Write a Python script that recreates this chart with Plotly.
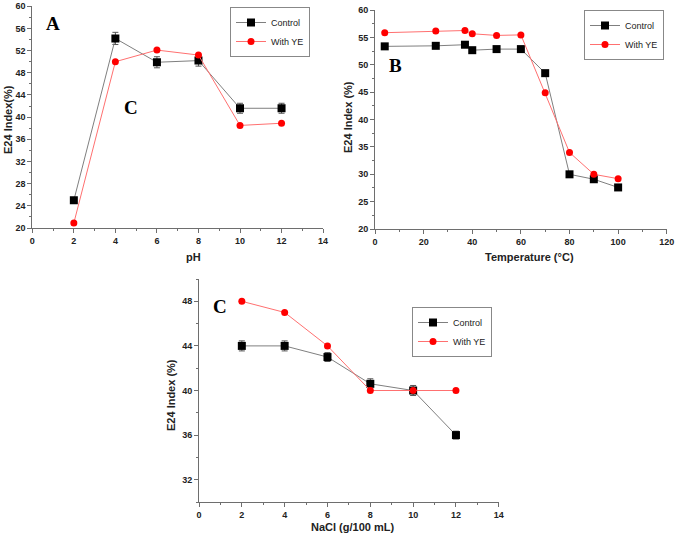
import plotly.graph_objects as go

W, H = 676, 537

# Panel A: pH
ph = [2, 4, 6, 8, 10, 12]
ph_control = [25.0, 54.2, 49.9, 50.2, 41.6, 41.6]
ph_control_err = [0.5, 1.1, 1.0, 1.0, 0.9, 0.9]
ph_ye = [20.9, 50.0, 52.1, 51.2, 38.5, 38.9]

# Panel B: Temperature
temp = [4, 25, 37, 40, 50, 60, 70, 80, 90, 100]
temp_control = [53.4, 53.5, 53.7, 52.7, 52.9, 52.9, 48.5, 30.0, 29.1, 27.6]
temp_control_err = [0.4, 0.4, 0.4, 0.4, 0.4, 0.4, 0.4, 0.4, 0.4, 0.4]
temp_ye = [55.9, 56.2, 56.3, 55.7, 55.4, 55.5, 44.9, 34.0, 30.0, 29.2]

# Panel C: NaCl
nacl = [2, 4, 6, 8, 10, 12]
nacl_control = [44.0, 44.0, 43.0, 40.6, 40.0, 36.0]
nacl_control_err = [0.45, 0.45, 0.4, 0.45, 0.45, 0.35]
nacl_ye = [48.0, 47.0, 44.0, 40.0, 40.0, 40.0]

CTRL_LINE = "#7f7f7f"
YE_LINE = "#ff7070"
FONT = "Liberation Sans"
TXT = "#222222"
AX = "#6e6e6e"

def px_x(p):
    return p / W

def px_y(p):
    return 1 - p / H

fig = go.Figure()

panels = [
    ("x", "y", "legend", ph, ph_control, ph_control_err, ph_ye),
    ("x2", "y2", "legend2", temp, temp_control, temp_control_err, temp_ye),
    ("x3", "y3", "legend3", nacl, nacl_control, nacl_control_err, nacl_ye),
]
for xa, ya, lg, xs, yc, ec, yy in panels:
    fig.add_trace(go.Scatter(
        x=xs, y=yc, mode="lines+markers", name="Control",
        xaxis=xa, yaxis=ya, legend=lg,
        line=dict(color=CTRL_LINE, width=1),
        marker=dict(symbol="square", size=8, color="black"),
        error_y=dict(type="data", array=ec, color="#555555", thickness=1, width=3),
    ))
    fig.add_trace(go.Scatter(
        x=xs, y=yy, mode="lines+markers", name="With YE",
        xaxis=xa, yaxis=ya, legend=lg,
        line=dict(color=YE_LINE, width=1),
        marker=dict(symbol="circle", size=7, color="red"),
    ))

def xaxis(domain, rng, dtick, minor, anchor):
    return dict(
        domain=domain, range=rng, dtick=dtick, tick0=0, anchor=anchor,
        showline=True, linecolor=AX, linewidth=1,
        ticks="outside", ticklen=4, tickcolor=AX,
        minor=dict(ticks="outside", ticklen=2, dtick=minor, tickcolor=AX),
        showgrid=False, zeroline=False, automargin=False,
        tickfont=dict(family=FONT, size=9, color=TXT, weight="bold"),
    )

def yaxis(domain, rng, dtick, tick0, minor, anchor):
    return dict(
        domain=domain, range=rng, dtick=dtick, tick0=tick0, anchor=anchor,
        showline=True, linecolor=AX, linewidth=1,
        ticks="outside", ticklen=4, tickcolor=AX,
        minor=dict(ticks="outside", ticklen=2, dtick=minor, tickcolor=AX),
        showgrid=False, zeroline=False, automargin=False,
        tickfont=dict(family=FONT, size=9, color=TXT, weight="bold"),
    )

fig.update_layout(
    width=W, height=H,
    margin=dict(l=0, r=0, t=0, b=0),
    paper_bgcolor="white", plot_bgcolor="white",
    showlegend=True,
    xaxis=xaxis([px_x(32.3), px_x(323.3)], [0, 14.01], 2, 1, "y"),
    yaxis=yaxis([px_y(228), px_y(6)], [20, 60.05], 4, 20, 2, "x"),
    xaxis2=xaxis([px_x(375), px_x(667)], [0, 120.1], 20, 10, "y2"),
    yaxis2=yaxis([px_y(229), px_y(10)], [20, 60.05], 5, 20, 2.5, "x2"),
    xaxis3=xaxis([px_x(199), px_x(499)], [0, 14.01], 2, 1, "y3"),
    yaxis3=yaxis([px_y(502), px_y(279)], [30, 50], 4, 32, 2, "x3"),
)

def legend(x, y, xanchor="left"):
    return dict(
        x=px_x(x), y=px_y(y), xanchor=xanchor, yanchor="top",
        bgcolor="white", bordercolor="#888", borderwidth=1,
        font=dict(family=FONT, size=9, color=TXT),
        itemwidth=30, tracegroupgap=0,
    )

fig.update_layout(
    legend=legend(230, 7),
    legend2=legend(664, 10, "right"),
    legend3=legend(412, 307),
)

# axis titles
titles = [
    ("E24 Index(%)", 8, 120, -90),
    ("pH", 193, 257, 0),
    ("E24 Index (%)", 348, 117, -90),
    ("Temperature (°C)", 529, 257, 0),
    ("E24 Index (%)", 171, 395, -90),
    ("NaCl (g/100 mL)", 353, 527, 0),
]
for txt, x, y, ang in titles:
    fig.add_annotation(
        text=txt, x=px_x(x), y=px_y(y), xref="paper", yref="paper",
        showarrow=False, xanchor="center", yanchor="middle", textangle=ang,
        font=dict(family=FONT, size=11, color=TXT, weight="bold"),
    )

letters = [("A", 53, 23), ("C", 131, 107), ("B", 395, 66), ("C", 220, 306)]
for txt, x, y in letters:
    fig.add_annotation(
        text=f"<b>{txt}</b>", x=px_x(x), y=px_y(y), xref="paper", yref="paper",
        showarrow=False, xanchor="center", yanchor="middle",
        font=dict(family="Liberation Serif", size=19, color="black"),
    )

fig.write_html(
    "out.html",
    config={"displayModeBar": False},
    post_script="document.body.style.margin='0';document.body.style.overflow='hidden';",
)
